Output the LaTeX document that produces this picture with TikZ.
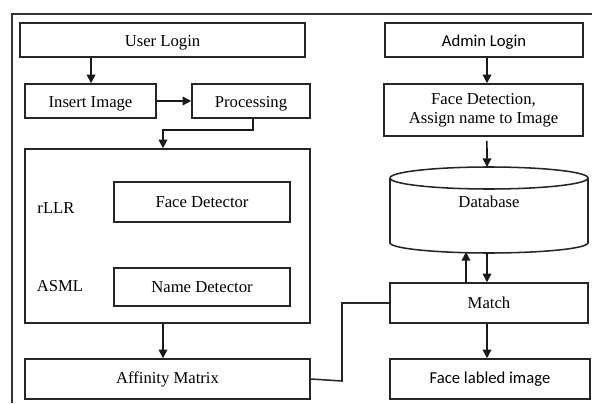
\documentclass[tikz,border=0pt]{standalone}
\usepackage{fontspec}
\setmainfont{Liberation Serif}
\newfontfamily\calib{Carlito}
\usetikzlibrary{arrows.meta}
\begin{document}
\begin{tikzpicture}[x=0.75pt,y=-0.75pt,
  line width=1.15pt, draw=black!85,
  box/.style={draw=black!85, line width=1.15pt, inner sep=0pt, align=center, font=\fontsize{12.5}{14.5}\selectfont},
  low/.style={text height=9.5pt, text depth=0pt},
  lbl/.style={inner sep=0pt, font=\fontsize{12.5}{14.5}\selectfont},
  arr/.style={-{Triangle[length=6.5pt,width=6.5pt]}, line width=1.15pt, draw=black!90}]
\useasboundingbox (0,0) rectangle (592,403);
\fill[white] (0,0) rectangle (592,403);
% outer frame
\coordinate (frtr) at (592,14);
\coordinate (frtl) at (12,14);
\coordinate (frbl) at (12,403);
\draw[black!80] (frtr) -- (frtl) -- (frbl);
% left column
\node[box, low, minimum width=285*0.75pt, minimum height=34*0.75pt] (ul) at (162.5,40) {User Login};
\node[box, low, minimum width=131*0.75pt, minimum height=34*0.75pt] (ins) at (90.5,101) {Insert Image};
\node[box, low, minimum width=118*0.75pt, minimum height=34*0.75pt] (proc) at (251,101) {Processing};
\node[box, minimum width=285*0.75pt, minimum height=174*0.75pt] (big) at (167.5,236) {};
\node[box, minimum width=176*0.75pt, minimum height=40*0.75pt] (fd) at (202,202) {Face Detector};
\node[box, minimum width=176*0.75pt, minimum height=38*0.75pt] (nd) at (202,287) {Name Detector};
\node[lbl] (rllr) at (56,208) {rLLR};
\node[lbl] (asml) at (60,286) {ASML};
\node[box, minimum width=285*0.75pt, minimum height=40*0.75pt] (aff) at (167.5,379) {Affinity Matrix};
% right column
\node[box, low, font=\calib\fontsize{12.5}{14.5}\selectfont, minimum width=198*0.75pt, minimum height=34*0.75pt] (al) at (484,40) {Admin Login};
\node[box, minimum width=199*0.75pt, minimum height=52*0.75pt] (fdet) at (483.5,110) {Face Detection,\\Assign name to Image};
% database cylinder
\coordinate (dbtl) at (390,178);
\coordinate (dbtr) at (588,178);
\coordinate (dbbl) at (390,243);
\coordinate (dbbr) at (588,243);
\draw[black!85] (489,178) ellipse [x radius=99, y radius=11];
\draw[black!85] (dbtl) -- (dbbl) .. controls (392,249) and (440,253) .. (489,253) .. controls (538,253) and (586,249) .. (dbbr) -- (dbtr);
\node[lbl] (db) at (489,202) {Database};
\coordinate (dbtop) at (487,167);
\coordinate (dbbotA) at (466,252);
\coordinate (dbbotB) at (487,253);
\node[box, minimum width=198*0.75pt, minimum height=40*0.75pt] (match) at (489,303) {Match};
\node[box, font=\calib\fontsize{12.5}{14.5}\selectfont, minimum width=200*0.75pt, minimum height=40*0.75pt] (fli) at (490,379) {Face labled image};
% arrows left
\draw[arr] ([xshift=0.4pt]ul.south -| ins.north) -- ([xshift=0.4pt]ins.north);
\draw[arr] (ins.east) -- (proc.west);
\draw[arr] ([xshift=1.5pt]proc.south) -- ++(0,11) -| ([xshift=-3.4pt]big.north);
\draw[arr] ([xshift=-3.4pt]big.south) -- ([xshift=-3.4pt]aff.north);
% arrows right
\draw[arr] ([xshift=2.25pt]al.south) -- ([xshift=2.25pt]al.south |- fdet.north);
\draw[arr] ([xshift=2.6pt,yshift=-3pt]fdet.south) -- (dbtop);
\draw[arr] (match.north -| dbbotA) -- (dbbotA);
\draw[arr] (dbbotB) -- (match.north -| dbbotB);
\draw[arr] ([xshift=-1.5pt]match.south) -- ([xshift=-1.5pt]match.south |- fli.north);
% affinity to match
\draw[black!85] (aff.east) -- (342,381) |- (match.west);
\end{tikzpicture}
\end{document}
